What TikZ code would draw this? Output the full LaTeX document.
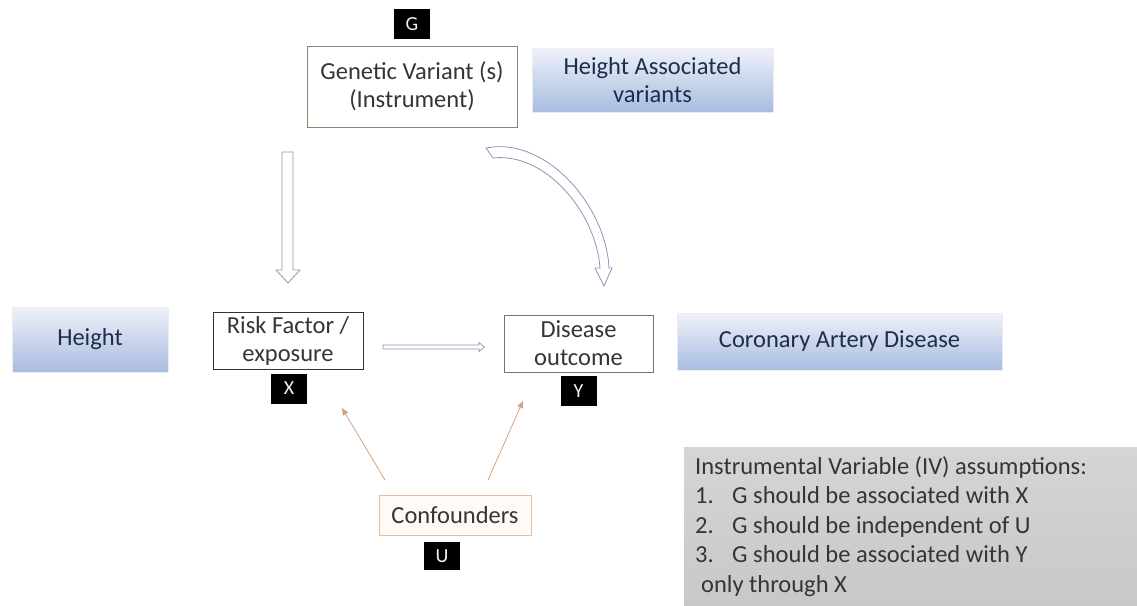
\documentclass[tikz,border=0pt]{standalone}
\usepackage{fontspec}
\setmainfont{Carlito}
\usetikzlibrary{arrows.meta}
\definecolor{txtgray}{HTML}{353535}
\definecolor{txtblue}{HTML}{1F2D4D}
\definecolor{hollow}{HTML}{8A97B2}
\definecolor{orangeln}{HTML}{D9A17E}
\definecolor{shtop}{HTML}{EEF1F9}
\definecolor{shbot}{HTML}{A9BCE0}
\definecolor{genborder}{HTML}{7E8C6E}
\begin{document}
\begin{tikzpicture}[x=1pt,y=-1pt,
  tag/.style={fill=black, text=white!90!gray, font=\fontsize{20}{20}\selectfont, minimum width=36pt, minimum height=30pt, inner sep=0pt},
  plainbox/.style={draw, fill=white, align=center, text=txtgray, font=\fontsize{24.5}{28}\selectfont, inner sep=0pt, line width=1pt},
  shadebox/.style={top color=shtop, bottom color=shbot, draw=white!85!gray, align=center, text=txtblue, font=\fontsize{24.5}{28}\selectfont, inner sep=0pt},
  hollowarrow/.style={draw=hollow, fill=white, line width=0.8pt, line join=miter},
  confarrow/.style={draw=orangeln, line width=0.8pt, -{Triangle[length=7pt,width=6pt]}}
]
\useasboundingbox (0,0) rectangle (1137,605);

% top
\node[tag] (G) at (412,24) {G};
\node[plainbox, draw=genborder, minimum width=210pt, minimum height=81pt] (gen) at (412,86.5) {Genetic Variant (s)\\(Instrument)};
\node[shadebox, minimum width=241pt, minimum height=64pt] (hav) at (652.5,80) {Height Associated\\variants};

% middle row
\node[shadebox, minimum width=156pt, minimum height=65pt] (height) at (90,339.5) {Height};
\node[plainbox, draw=black!80, minimum width=150pt, minimum height=57pt] (risk) at (288,340.5) {Risk Factor /\\exposure};
\node[tag] (X) at (289,388.5) {X};
\node[plainbox, draw=black!55, minimum width=149pt, minimum height=57pt] (dis) at (578.5,343.5) {Disease\\outcome};
\node[tag] (Y) at (578.5,391) {Y};
\node[shadebox, minimum width=325pt, minimum height=57pt] (cad) at (839.5,341.5) {Coronary Artery Disease};

% confounders
\node[plainbox, draw=orangeln!70, fill=orange!4, line width=0.8pt, minimum width=152pt, minimum height=40pt] (conf) at (455,515) {Confounders};
\node[tag, minimum height=28pt] (U) at (442,556) {U};

% IV assumptions
\node[top color=gray!33, bottom color=gray!43, minimum width=453pt, minimum height=158pt, inner sep=0pt] (iv) at (910.5,526) {};
\node[anchor=north west, align=left, text=txtgray, inner sep=0pt, font=\fontsize{24.5}{29.5}\selectfont] (ivtext) at (695,456)
 {Instrumental Variable (IV) assumptions:\\
  \makebox[37pt][l]{1.}G should be associated with X\\
  \makebox[37pt][l]{2.}G should be independent of U\\
  \makebox[37pt][l]{3.}G should be associated with Y\\
  \hspace{6pt}only through X};

% vertical hollow arrow G -> X
\draw[hollowarrow] (282,152) -- (293,152) -- (293,270) -- (300,270) -- (288,283) -- (276,270) -- (282,270) -- cycle;

% horizontal hollow arrow X -> Y
\draw[hollowarrow, line width=0.7pt] (383,345) -- (479,345) -- (479,342.5) -- (484.5,347) -- (479,351.5) -- (479,349) -- (383,349) -- cycle;

% curved hollow arrow G -> Y
\draw[hollowarrow] (486,148) .. controls (545,136) and (606,205) .. (609,268)
  -- (612,268) -- (604,286) -- (595,268) -- (600,268)
  .. controls (596,212) and (545,152) .. (493,158) -- cycle;

% confounder arrows
\coordinate (c1) at (385,480);
\coordinate (c2) at (488,480);
\coordinate (t1) at (342,408);
\coordinate (t2) at (523,401);
\draw[confarrow] (c1) -- (t1);
\draw[confarrow] (c2) -- (t2);
\end{tikzpicture}
\end{document}
